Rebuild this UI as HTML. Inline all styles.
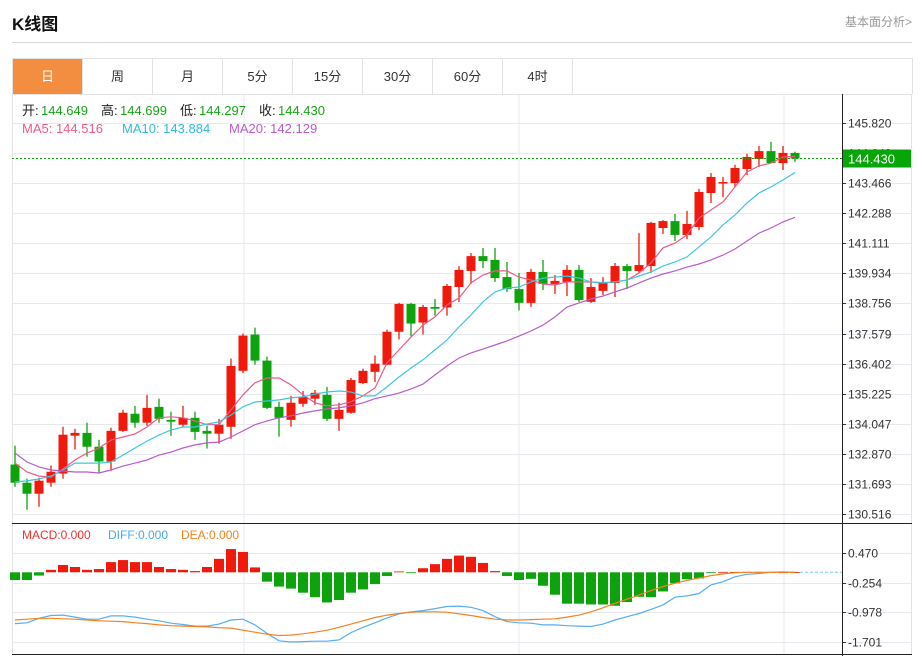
<!DOCTYPE html>
<html><head><meta charset="utf-8">
<style>
html,body{margin:0;padding:0;background:#fff;width:922px;height:656px;overflow:hidden;font-family:"Liberation Sans","Noto Sans CJK SC",sans-serif;}
#title{position:absolute;left:12px;top:10px;font-size:17px;font-weight:bold;color:#111;}
#more{position:absolute;right:10px;top:13px;font-size:12px;color:#999;}
#hr{position:absolute;left:12px;top:42px;width:900px;height:1px;background:#d8d8d8;}
#tabs{position:absolute;left:12px;top:58px;width:899px;height:35px;border:1px solid #e3e3e3;border-bottom:none;display:flex;}
.tab{width:69px;height:35px;border-right:1px solid #e3e3e3;text-align:center;line-height:35px;font-size:13px;color:#333;}
.tab.on{background:#f38d3f;color:#fff;}
svg{position:absolute;left:0;top:0;}
</style></head><body>
<div id="title">K线图</div>
<div id="more">基本面分析&gt;</div>
<div id="hr"></div>
<div id="tabs">
<div class="tab on">日</div>
<div class="tab">周</div>
<div class="tab">月</div>
<div class="tab">5分</div>
<div class="tab">15分</div>
<div class="tab">30分</div>
<div class="tab">60分</div>
<div class="tab">4时</div>
</div>
<svg id="chart" width="922" height="656"></svg>
<script>
const openV=[132.45,131.74,131.31,131.74,132.10,133.58,133.69,133.15,132.57,133.77,134.44,134.09,134.71,134.20,134.01,134.28,133.77,133.66,133.93,136.12,137.54,136.52,134.71,134.20,134.83,135.03,135.18,134.24,134.48,135.64,136.08,136.36,137.65,138.74,138.01,138.62,138.60,139.40,140.03,140.61,140.46,139.79,139.32,138.78,139.99,139.52,139.60,140.07,138.82,139.25,139.56,140.22,140.03,140.22,141.71,141.98,141.44,141.75,143.08,143.47,143.47,144.02,144.41,144.72,144.25,144.649];
const highV=[133.19,131.90,131.94,132.41,133.93,133.85,134.09,133.42,133.89,134.59,134.75,135.18,135.03,134.52,134.75,134.52,133.97,134.24,136.60,137.58,137.81,136.68,134.91,135.14,135.33,135.37,135.49,134.87,135.84,136.20,136.72,137.73,138.78,138.78,138.70,138.93,139.52,140.22,140.73,140.93,140.93,140.38,139.95,140.11,140.46,139.87,140.26,140.26,139.75,139.79,140.34,140.30,141.51,141.95,142.02,142.26,142.38,143.24,143.86,143.71,144.18,144.61,144.92,145.08,144.92,144.699];
const lowV=[131.58,130.68,130.80,131.58,131.90,133.04,132.76,132.10,132.21,133.73,133.89,133.97,134.09,133.58,133.93,133.42,133.08,133.27,133.46,136.03,136.36,134.62,133.54,133.93,134.71,134.79,134.16,133.77,134.44,135.60,135.68,136.34,137.35,137.47,137.54,138.28,138.28,138.82,139.52,140.14,139.60,139.21,138.48,138.62,139.28,139.13,139.05,138.82,138.78,139.09,139.01,139.32,139.95,139.95,141.48,141.20,141.28,141.63,142.69,142.92,143.32,143.78,144.10,144.25,143.98,144.297];
const closeV=[131.74,131.31,131.82,132.17,133.62,133.69,133.15,132.57,133.77,134.48,134.09,134.67,134.24,134.13,134.28,133.73,133.66,134.01,136.31,137.50,136.52,134.67,134.28,134.87,135.10,135.26,134.24,134.59,135.76,136.12,136.40,137.65,138.74,137.97,138.62,138.55,139.44,140.07,140.61,140.42,139.75,139.32,138.78,139.99,139.52,139.64,140.07,138.89,139.40,139.60,140.22,140.03,140.26,141.91,141.98,141.44,141.87,143.12,143.71,143.51,144.06,144.49,144.72,144.25,144.65,144.430];
const ma5=[132.51,132.16,132.00,131.96,132.28,132.63,132.90,133.10,133.41,133.53,133.65,133.92,134.28,134.32,134.28,134.16,134.01,134.01,134.59,135.18,135.65,135.84,135.84,135.57,135.18,134.87,134.75,134.79,134.91,135.14,135.45,136.43,136.94,137.44,137.91,138.23,138.70,138.97,139.56,139.87,140.03,140.03,139.79,139.67,139.52,139.48,139.60,139.60,139.60,139.56,139.60,139.67,139.95,140.34,140.93,141.12,141.44,142.10,142.42,142.73,143.32,143.90,144.14,144.25,144.49,144.516];
const ma10=[131.77,131.81,131.89,132.00,132.24,132.51,132.51,132.51,132.55,132.82,133.10,133.37,133.61,133.80,133.92,133.92,134.04,134.12,134.39,134.71,134.90,134.94,134.98,135.06,135.10,135.21,135.29,135.33,135.29,135.14,135.14,135.49,135.88,136.23,136.55,136.94,137.33,137.84,138.31,138.82,139.21,139.36,139.40,139.60,139.75,139.79,139.83,139.75,139.60,139.56,139.60,139.67,139.83,139.99,140.22,140.38,140.58,140.97,141.36,141.83,142.22,142.69,143.08,143.32,143.59,143.884];
const ma20=[132.90,132.55,132.36,132.24,132.20,132.16,132.16,132.12,132.24,132.39,132.51,132.63,132.82,132.94,133.10,133.22,133.30,133.33,133.53,133.77,134.01,134.16,134.28,134.36,134.47,134.55,134.63,134.67,134.75,134.87,135.03,135.14,135.25,135.41,135.60,135.96,136.31,136.62,136.82,136.97,137.13,137.29,137.48,137.68,137.91,138.23,138.62,138.78,138.93,139.05,139.21,139.36,139.56,139.75,139.91,140.03,140.18,140.30,140.46,140.65,140.89,141.20,141.51,141.71,141.95,142.129];
const macdV=[-0.19,-0.19,-0.08,0.06,0.18,0.13,0.06,0.08,0.25,0.30,0.25,0.25,0.13,0.08,0.06,0.03,0.13,0.33,0.57,0.50,0.12,-0.23,-0.35,-0.40,-0.50,-0.61,-0.74,-0.68,-0.50,-0.42,-0.29,-0.09,0.02,-0.02,0.10,0.20,0.33,0.41,0.38,0.23,0.03,-0.09,-0.19,-0.16,-0.33,-0.55,-0.77,-0.77,-0.79,-0.79,-0.82,-0.73,-0.60,-0.61,-0.47,-0.27,-0.17,-0.15,-0.02,0.01,0.01,0.01,0.01,0.01,0.0,0.0];
const diffV=[-1.26,-1.24,-1.13,-1.06,-1.05,-1.10,-1.15,-1.15,-1.07,-1.07,-1.10,-1.15,-1.19,-1.25,-1.28,-1.32,-1.32,-1.27,-1.17,-1.15,-1.29,-1.50,-1.68,-1.71,-1.70,-1.69,-1.69,-1.66,-1.48,-1.35,-1.24,-1.12,-1.02,-0.97,-0.94,-0.89,-0.84,-0.83,-0.86,-0.94,-1.09,-1.21,-1.24,-1.25,-1.29,-1.29,-1.31,-1.32,-1.33,-1.27,-1.17,-1.09,-1.01,-0.91,-0.80,-0.61,-0.58,-0.52,-0.31,-0.23,-0.11,-0.05,-0.03,0.00,0.01,0.00];
const deaV=[-1.17,-1.15,-1.13,-1.13,-1.14,-1.15,-1.17,-1.19,-1.20,-1.21,-1.24,-1.26,-1.29,-1.31,-1.32,-1.33,-1.34,-1.36,-1.37,-1.42,-1.47,-1.52,-1.55,-1.54,-1.51,-1.47,-1.42,-1.35,-1.27,-1.19,-1.11,-1.05,-1.01,-0.98,-0.97,-0.97,-0.98,-1.02,-1.06,-1.11,-1.15,-1.17,-1.17,-1.16,-1.15,-1.14,-1.10,-1.05,-0.97,-0.87,-0.76,-0.66,-0.56,-0.45,-0.35,-0.27,-0.20,-0.14,-0.08,-0.04,-0.01,0,0,0,0,0];
const priceTicks=["145.820","144.643","143.466","142.288","141.111","139.934","138.756","137.579","136.402","135.225","134.047","132.870","131.693","130.516"];
const macdTicks=["0.470","-0.254","-0.978","-1.701"];

const NS="http://www.w3.org/2000/svg";
const svg=document.getElementById('chart');
function mk(tag,attrs,parent){const e=document.createElementNS(NS,tag);for(const k in attrs)e.setAttribute(k,attrs[k]);(parent||svg).appendChild(e);return e;}
const xOf=i=>15+12*i;
const yP=p=>123+(145.820-p)*(391/(145.820-130.516));
const yM=v=>572.3-v*40.75;
const RED="#f0190b",GREEN="#0da30d";

// grid
for(const gx of [244,519,784]){const l=mk('line',{x1:gx,x2:gx,y1:94,y2:654,stroke:'#e6eaf0','stroke-width':1});

}
priceTicks.forEach(t=>{const y=Math.round(yP(parseFloat(t)))+0.5;
const g=mk('line',{x1:12,x2:912,y1:y,y2:y,stroke:'#e6eaf0','stroke-width':1});


mk('line',{x1:842,x2:846,y1:y,y2:y,stroke:'#333'});
const tx=mk('text',{x:848,y:y+4,'font-size':12,fill:'#333'});tx.textContent=t;

});
macdTicks.forEach(t=>{const y=Math.round(yM(parseFloat(t)))+0.5;
const g=mk('line',{x1:12,x2:912,y1:y,y2:y,stroke:'#e6eaf0','stroke-width':1});


mk('line',{x1:842,x2:846,y1:y,y2:y,stroke:'#333'});
const tx=mk('text',{x:848,y:y+4,'font-size':12,fill:'#333'});tx.textContent=t;

});
// frame
mk('line',{x1:12.5,x2:12.5,y1:94,y2:654,stroke:'#e3e3e3'});
mk('line',{x1:911.5,x2:911.5,y1:94,y2:654,stroke:'#e3e3e3'});
mk('line',{x1:12,x2:912,y1:94.5,y2:94.5,stroke:'#e3e3e3'});
mk('line',{x1:842.5,x2:842.5,y1:94,y2:656,stroke:'#222'});
mk('line',{x1:12,x2:912,y1:523.5,y2:523.5,stroke:'#222'});
mk('line',{x1:12,x2:912,y1:654.5,y2:654.5,stroke:'#222'});

// candles
openV.forEach((o,i)=>{const c=closeV[i],x=xOf(i);const col=c>=o?RED:GREEN;
const w=mk('line',{x1:x,x2:x,y1:yP(highV[i]),y2:yP(lowV[i]),stroke:col,'stroke-width':1.3});


const t=Math.min(yP(o),yP(c)),h=Math.max(1.5,Math.abs(yP(o)-yP(c)));
const b=mk('rect',{x:x-4.5,y:t,width:9,height:h,fill:col});

});

function line(arr,f,col,name,w){const d=arr.map((v,i)=>(i?'L':'M')+xOf(i)+','+f(v).toFixed(1)).join('');
const p=mk('path',{d:d,fill:'none',stroke:col,'stroke-width':w||1.2});

}
line(ma5,yP,'#ee5a86','ma5-line');
line(ma10,yP,'#3cc8e0','ma10-line');
line(ma20,yP,'#b85ccc','ma20-line');

// last price
const ly=yP(closeV[closeV.length-1]);
mk('line',{x1:12,x2:842,y1:ly,y2:ly,stroke:'#0da30d','stroke-dasharray':'2,2'});
const bx=mk('rect',{x:843,y:ly-9,width:68,height:18,fill:'#07a507'});


const lt=mk('text',{x:848,y:ly+5,'font-size':13,fill:'#fff'});lt.textContent=closeV[closeV.length-1].toFixed(3);



// macd
mk('line',{x1:790,x2:842,y1:yM(0),y2:yM(0),stroke:'#7cc8f0','stroke-dasharray':'3,2'});
macdV.forEach((v,i)=>{const x=xOf(i),y0=yM(0),y1=yM(v);
const r=mk('rect',{x:x-5,y:Math.min(y0,y1),width:10,height:Math.max(0.8,Math.abs(y1-y0)),fill:v>=0?RED:GREEN});

});
line(diffV,yM,'#58aef0','diff-line');
line(deaV,yM,'#f58220','dea-line');

// legends
function txt(x,y,s,col,size,name){const t=mk('text',{x:x,y:y,'font-size':size,fill:col});t.textContent=s;

return t;}
const G='#16a516';
txt(22,115,'开:','#222',13,'open-label');txt(41,115,'144.649',G,13,'open-value');
txt(101,115,'高:','#222',13,'high-label');txt(120,115,'144.699',G,13,'high-value');
txt(180,115,'低:','#222',13,'low-label');txt(199,115,'144.297',G,13,'low-value');
txt(259,115,'收:','#222',13,'close-label');txt(278,115,'144.430',G,13,'close-value');
txt(22,133,'MA5: 144.516','#ee5a86',13,'ma5-legend');
txt(122,133,'MA10: 143.884','#30bcd8',13,'ma10-legend');
txt(229,133,'MA20: 142.129','#b85ccc',13,'ma20-legend');
txt(22,539,'MACD:0.000','#f03030',12,'macd-legend');
txt(108,539,'DIFF:0.000','#4aa8f0',12,'diff-legend');
txt(181,539,'DEA:0.000','#f58220',12,'dea-legend');
</script>
</body></html>
